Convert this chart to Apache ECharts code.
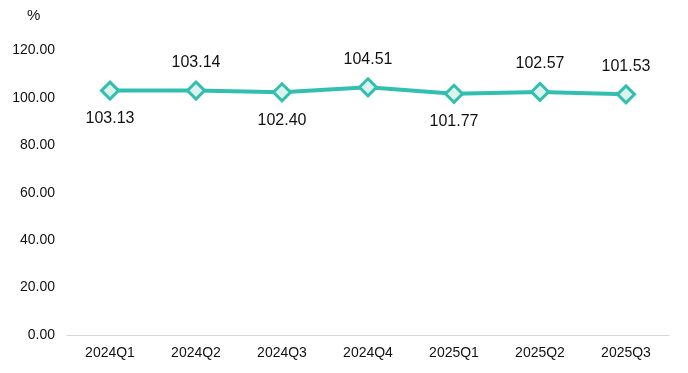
<!DOCTYPE html>
<html><head><meta charset="utf-8">
<script src="https://cdn.jsdelivr.net/npm/echarts@6/dist/echarts.min.js"></script>
<style>html,body{margin:0;padding:0;background:#fff}#c{width:688px;height:373px}</style>
</head><body><div id="c"></div>
<script>
var categories = ['2024Q1','2024Q2','2024Q3','2024Q4','2025Q1','2025Q2','2025Q3'];
var values = [103.13, 103.14, 102.40, 104.51, 101.77, 102.57, 101.53];
var labelPos = ['bottom','top','bottom','top','bottom','top','top'];
var yTicks = {min: 0, max: 120, interval: 20};

var chart = echarts.init(document.getElementById('c'));
var font = '"Liberation Sans",Arial,sans-serif';
chart.setOption({
  animation: false,
  grid: {left: 67, right: 19, top: 50.6, bottom: 38},
  graphic: [{type:'text', left: 27, top: 8, style:{text:'%', font:'15px ' + font, fill:'#111'}}],
  xAxis: {
    type: 'category', data: categories, boundaryGap: true,
    axisLine: {lineStyle: {color: '#d9d9d9', width: 1}},
    axisTick: {show: false},
    axisLabel: {color: '#111', fontSize: 14, fontFamily: font, margin: 11}
  },
  yAxis: {
    type: 'value', min: yTicks.min, max: yTicks.max, interval: yTicks.interval,
    axisLine: {show: false}, axisTick: {show: false}, splitLine: {show: false},
    axisLabel: {color: '#111', fontSize: 14, fontFamily: font, margin: 12,
      formatter: function(v){return v.toFixed(2);}}
  },
  series: [{
    type: 'line',
    data: values.map(function(v, i){
      return {value: v, label: {position: labelPos[i]}};
    }),
    symbol: 'diamond', symbolSize: 17,
    lineStyle: {color: '#33BFAF', width: 4},
    itemStyle: {color: '#dcf2ec', borderColor: '#33BFAF', borderWidth: 3},
    label: {show: true, distance: 10, color: '#111', fontSize: 16, fontFamily: font,
      formatter: function(p){return p.value.toFixed(2);}}
  }]
});
</script></body></html>
